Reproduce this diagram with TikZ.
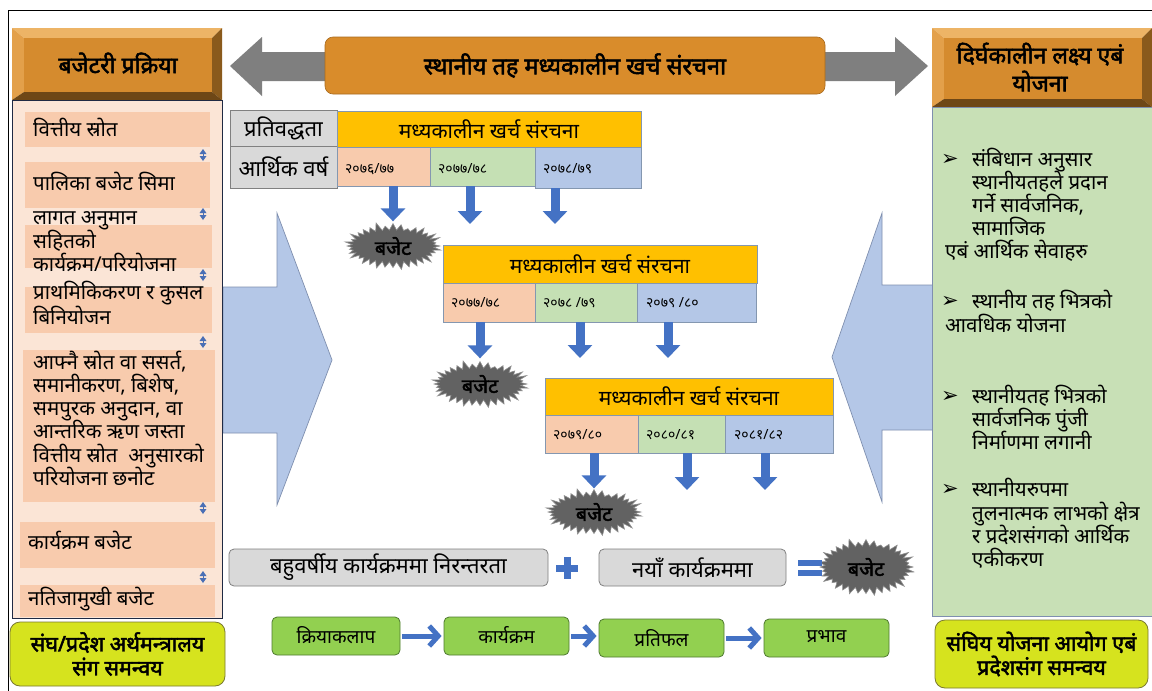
\documentclass[tikz,border=0pt]{standalone}
\usepackage{fontspec}
\setmainfont{Noto Sans}
\newfontfamily\dev[Script=Devanagari]{Noto Sans}
\newfontfamily\devb[Script=Devanagari, FakeBold=2.2]{Noto Sans}
\newfontfamily\symf{DejaVu Sans}
\usetikzlibrary{shapes.symbols,arrows.meta}
\definecolor{hdrmid}{HTML}{D58B2E}
\definecolor{bevlight}{HTML}{EDB466}
\definecolor{bevleft}{HTML}{E3A04A}
\definecolor{bevdark}{HTML}{8A5A1C}
\definecolor{bevbot}{HTML}{6E4716}
\definecolor{titlebox}{HTML}{D98C2B}
\definecolor{titleedge}{HTML}{A86A1E}
\definecolor{grayarrow}{HTML}{7F7F7F}
\definecolor{panelbg}{HTML}{FBE5D6}
\definecolor{peach}{HTML}{F8CBAD}
\definecolor{greenpanel}{HTML}{C8E0B6}
\definecolor{lime}{HTML}{D6E31E}
\definecolor{limeedge}{HTML}{7A7A30}
\definecolor{tyellow}{HTML}{FFC000}
\definecolor{tgreen}{HTML}{C5E0B4}
\definecolor{tblue}{HTML}{B4C7E7}
\definecolor{tgray}{HTML}{D9D9D9}
\definecolor{celledge}{HTML}{8497B0}
\definecolor{arrowblue}{HTML}{4472C4}
\definecolor{boxgreen}{HTML}{92D050}
\definecolor{boxgreenedge}{HTML}{4F7A30}
\definecolor{chevfill}{HTML}{B4C7E7}
\definecolor{chevedge}{HTML}{7F8FAF}
\definecolor{burst}{HTML}{626262}
\definecolor{burstedge}{HTML}{8F8F8F}
\definecolor{icon}{HTML}{4A6FB5}
\definecolor{paneledge}{HTML}{1F2A44}
\newcommand\bevelbox[4]{%
 \fill[bevlight] (#1,#2) -- (#3,#2) -- (#3-10,#2+10) -- (#1+12,#2+10) -- cycle;
 \fill[bevleft] (#1,#2) -- (#1+12,#2+10) -- (#1+12,#4-8) -- (#1,#4) -- cycle;
 \fill[bevdark] (#3,#2) -- (#3,#4) -- (#3-10,#4-8) -- (#3-10,#2+10) -- cycle;
 \fill[bevbot] (#1,#4) -- (#3,#4) -- (#3-10,#4-8) -- (#1+12,#4-8) -- cycle;
 \fill[hdrmid] (#1+12,#2+10) rectangle (#3-10,#4-8);
}
\begin{document}
\begin{tikzpicture}[x=1pt,y=-1pt,
  txt/.style={font=\dev\fontsize{20.5}{23}\selectfont, inner sep=0pt, anchor=mid west, yshift=-4pt},
  bul/.style={font=\symf\fontsize{21}{22}\selectfont, inner sep=0pt, anchor=mid west, yshift=-3pt},
  hdrtxt/.style={font=\devb\fontsize{23}{28}\selectfont, inner sep=0pt, align=center},
  cell/.style={draw=celledge, line width=0.7pt, inner sep=0pt},
  yeartxt/.style={font=\dev\fontsize{14}{16}\selectfont, inner sep=0pt, anchor=mid west, yshift=-3pt},
  tabhead/.style={cell, fill=tyellow, font=\dev\fontsize{21}{24}\selectfont},
  graycell/.style={cell, fill=tgray, draw=gray, font=\dev\fontsize{22}{24}\selectfont},
  item/.style={fill=peach},
  bursty/.style={starburst, starburst points=36, starburst point height=9pt, fill=burst, draw=burstedge, line width=0.6pt, minimum width=100pt, minimum height=50pt, inner sep=0pt, font=\devb\fontsize{20}{20}\selectfont},
  downarrow/.style={draw=arrowblue, line width=9pt, -{Triangle[width=24pt,length=13pt]}},
  garrow/.style={draw=arrowblue, line width=5pt, -{Straight Barb[length=9pt,width=20pt]}, shorten <=2pt, shorten >=2pt},
  graybox/.style={draw=gray, fill=tgray, rounded corners=5pt, line width=0.8pt, minimum height=37pt, inner sep=0pt, font=\dev\fontsize{22}{24}\selectfont},
  greenbox/.style={draw=boxgreenedge, fill=boxgreen, rounded corners=5pt, line width=0.8pt, minimum width=126pt, minimum height=38pt, inner sep=0pt, font=\dev\fontsize{19}{22}\selectfont},
  limebox/.style={draw=limeedge, fill=lime, rounded corners=10pt, line width=0.8pt, inner sep=0pt, font=\devb\fontsize{21.5}{24}\selectfont, align=center},
  chev/.style={fill=chevfill, draw=chevedge, line width=0.7pt}
]
\useasboundingbox (0,0) rectangle (1152,691);
\fill[white] (0,0) rectangle (1152,691);
% outer frame
\draw[black, line width=1pt] (8,691) -- (8,10) -- (1152,10);

% chevrons
\draw[chev] (223,287) -- (277,287) -- (277,213) -- (332,360) -- (277,505) -- (277,433) -- (223,433) -- cycle;
\draw[chev] (933,285) -- (882,285) -- (882,213) -- (832,357) -- (882,502) -- (882,430) -- (933,430) -- cycle;

% top gray double arrow and title
\fill[grayarrow] (230,66) -- (262,37) -- (262,52) -- (895,52) -- (895,37) -- (928,66) -- (895,96) -- (895,81) -- (262,81) -- (262,96) -- cycle;
\node[fill=titlebox, draw=titleedge, line width=0.6pt, rounded corners=8pt, minimum width=500pt, minimum height=57pt, inner sep=0pt, font=\devb\fontsize{23.5}{24}\selectfont] (title) at (575,65.5) {स्थानीय तह मध्यकालीन खर्च संरचना};

% left header
\bevelbox{12}{28}{222}{100}
\node[hdrtxt] (lhdr) at (118,63) {बजेटरी प्रक्रिया};

% left panel
\draw[fill=panelbg, draw=paneledge, line width=1pt] (12,100) rectangle (222,618);
\fill[item] (25,112) rectangle (210,147);
\fill[item] (25,162) rectangle (210,208);
\fill[item] (25,225) rectangle (212,268);
\fill[item] (25,287) rectangle (212,333);
\fill[item] (23,350) rectangle (215,502);
\fill[item] (20,522) rectangle (215,568);
\fill[item] (20,585) rectangle (215,617);
\foreach \yy in {155,214,275,342,508,577}{
  \fill[icon] (199.5,\yy-1) -- (206.5,\yy-1) -- (203,\yy-6) -- cycle;
  \fill[icon] (199.5,\yy+1) -- (206.5,\yy+1) -- (203,\yy+6) -- cycle;
  \draw[icon, line width=1pt] (203,\yy-4) -- (203,\yy+4);
}
\node[txt] (l1) at (33,130) {वित्तीय स्रोत};
\node[txt] (l2) at (33,184) {पालिका बजेट सिमा};
\node[txt] (l3a) at (33,218) {लागत अनुमान};
\node[txt] (l3b) at (33,242) {सहितको};
\node[txt] (l3c) at (33,265) {कार्यक्रम/परियोजना};
\node[txt] (l4a) at (33,293) {प्राथमिकिकरण र कुसल};
\node[txt] (l4b) at (33,318) {बिनियोजन};
\node[txt] (l5a) at (33,363) {आफ्नै स्रोत वा ससर्त,};
\node[txt] (l5b) at (33,386) {समानीकरण, बिशेष,};
\node[txt] (l5c) at (33,409) {समपुरक अनुदान, वा};
\node[txt] (l5d) at (33,432) {आन्तरिक ऋण जस्ता};
\node[txt] (l5e) at (33,456) {वित्तीय स्रोत \ अनुसारको};
\node[txt] (l5f) at (33,479) {परियोजना छनोट};
\node[txt] (l6) at (28,543) {कार्यक्रम बजेट};
\node[txt] (l7) at (28,599) {नतिजामुखी बजेट};

% left lime box
\node[limebox, minimum width=215pt, minimum height=64pt] (lime1) at (117.5,654) {संघ/प्रदेश अर्थमन्त्रालय\\संग समन्वय};

% right header
\bevelbox{932}{28}{1152}{107}
\node[hdrtxt] (rhdr) at (1040,67) {दिर्घकालीन लक्ष्य एबं\\योजना};

% right panel
\draw[fill=greenpanel, draw=chevedge, line width=0.7pt] (932,107) rectangle (1152,616);
\node[bul] (bu1) at (941,160) {➢};
\node[txt] (r1a) at (972,160) {संबिधान अनुसार};
\node[txt] (r1b) at (972,183) {स्थानीयतहले प्रदान};
\node[txt] (r1c) at (972,206) {गर्ने सार्वजनिक,};
\node[txt] (r1d) at (972,229) {सामाजिक};
\node[txt] (r1e) at (945,252) {एबं आर्थिक सेवाहरु};
\node[bul] (bu2) at (941,302) {➢};
\node[txt] (r2a) at (972,302) {स्थानीय तह भित्रको};
\node[txt] (r2b) at (945,326) {आवधिक योजना};
\node[bul] (bu3) at (941,397) {➢};
\node[txt] (r3a) at (972,397) {स्थानीयतह भित्रको};
\node[txt] (r3b) at (972,420) {सार्वजनिक पुंजी};
\node[txt] (r3c) at (972,443) {निर्माणमा लगानी};
\node[bul] (bu4) at (941,490) {➢};
\node[txt] (r4a) at (972,490) {स्थानीयरुपमा};
\node[txt] (r4b) at (972,514) {तुलनात्मक लाभको क्षेत्र};
\node[txt] (r4c) at (972,537) {र प्रदेशसंगको आर्थिक};
\node[txt] (r4d) at (972,560) {एकीकरण};

% right lime box
\node[limebox, minimum width=213pt, minimum height=68pt] (lime2) at (1041.5,654) {संघिय योजना आयोग एबं\\प्रदेशसंग समन्वय};

% table 1
\node[graycell, minimum width=107pt, minimum height=36pt] (p1) at (283.5,128) {प्रतिवद्धता};
\node[graycell, minimum width=107pt, minimum height=42pt] (a1) at (283.5,167) {आर्थिक वर्ष};
\node[tabhead, minimum width=304pt, minimum height=36pt] (h1) at (489,129) {मध्यकालीन खर्च संरचना};
\node[cell, fill=peach, minimum width=93pt, minimum height=39pt] (c11) at (383.5,166.5) {};
\node[cell, fill=tgreen, minimum width=105pt, minimum height=39pt] (c12) at (482.5,166.5) {};
\node[cell, fill=tblue, minimum width=106pt, minimum height=41pt] (c13) at (588,167.5) {};
\node[yeartxt] (y11) at (345,168) {२०७६/७७};
\node[yeartxt] (y12) at (438,168) {२०७७/७८};
\node[yeartxt] (y13) at (543,168) {२०७८/७९};

% table 2
\node[tabhead, minimum width=314pt, minimum height=38pt] (h2) at (600,264) {मध्यकालीन खर्च संरचना};
\node[cell, fill=peach, minimum width=92pt, minimum height=39pt] (c21) at (489,302.5) {};
\node[cell, fill=tgreen, minimum width=102pt, minimum height=39pt] (c22) at (586,302.5) {};
\node[cell, fill=tblue, minimum width=119pt, minimum height=39pt] (c23) at (696.5,302.5) {};
\node[yeartxt] (y21) at (451,302) {२०७७/७८};
\node[yeartxt] (y22) at (543,302) {२०७८ /७९};
\node[yeartxt] (y23) at (646,302) {२०७९ /८०};

% table 3
\node[tabhead, minimum width=288pt, minimum height=37pt] (h3) at (689,396.5) {मध्यकालीन खर्च संरचना};
\node[cell, fill=peach, minimum width=93pt, minimum height=38pt] (c31) at (591.5,434) {};
\node[cell, fill=tgreen, minimum width=87pt, minimum height=38pt] (c32) at (681.5,434) {};
\node[cell, fill=tblue, minimum width=108pt, minimum height=38pt] (c33) at (779,434) {};
\node[yeartxt] (y31) at (553,434) {२०७९/८०};
\node[yeartxt] (y32) at (646,434) {२०८०/८१};
\node[yeartxt] (y33) at (734,434) {२०८१/८२};

% starbursts
\node[bursty] (b1) at (393,246) {बजेट};
\node[bursty] (b2) at (480,384) {बजेट};
\node[bursty] (b3) at (594,512) {बजेट};
\node[bursty, minimum width=100pt, minimum height=60pt] (b4) at (866,567) {बजेट};

% down arrows
\coordinate (e12) at (470,224);
\coordinate (e13) at (555,224);
\coordinate (e22) at (580,358);
\coordinate (e23) at (668,358);
\coordinate (e32) at (687,490);
\coordinate (e33) at (765,490);
\draw[downarrow] (c11.south -| b1) -- ++(0,35);
\draw[downarrow] (e12 |- c12.south) -- (e12);
\draw[downarrow] (e13 |- c13.south) -- (e13);
\draw[downarrow] (c21.south -| b2) -- ++(0,36);
\draw[downarrow] (e22 |- c22.south) -- (e22);
\draw[downarrow] (e23 |- c23.south) -- (e23);
\draw[downarrow] (c31.south -| b3) -- ++(0,35);
\draw[downarrow] (e32 |- c32.south) -- (e32);
\draw[downarrow] (e33 |- c33.south) -- (e33);

% bottom equation row
\node[graybox, minimum width=319pt] (g1) at (388.5,567.5) {बहुवर्षीय कार्यक्रममा निरन्तरता};
\node[graybox, minimum width=187pt] (g2) at (692.5,567.5) {नयाँ कार्यक्रममा};
\node[inner sep=0pt, minimum size=22pt] (plus) at (567,568) {};
\fill[arrowblue] (556,564.5) rectangle (578,571.5);
\fill[arrowblue] (563.5,557) rectangle (570.5,579);
\node[inner sep=0pt, minimum width=24pt, minimum height=18pt] (eq) at (810,568) {};
\fill[arrowblue] (798,560) rectangle (822,566);
\fill[arrowblue] (798,570) rectangle (822,576);

% green flow row
\node[greenbox, minimum width=128pt] (k1) at (336,636) {\raisebox{3pt}{क्रियाकलाप}};
\node[greenbox, minimum width=125pt] (k2) at (506.5,636) {\raisebox{3pt}{कार्यक्रम}};
\node[greenbox, minimum width=125pt] (k3) at (661.5,638) {प्रतिफल};
\node[greenbox, minimum width=125pt] (k4) at (826.5,638) {\raisebox{3pt}{प्रभाव}};
\draw[garrow] (k1.east) -- (k2.west |- k1.east);
\draw[garrow] (k2.east) -- (k3.west |- k2.east);
\draw[garrow] (k3.east) -- (k4.west |- k3.east);
\end{tikzpicture}
\end{document}
